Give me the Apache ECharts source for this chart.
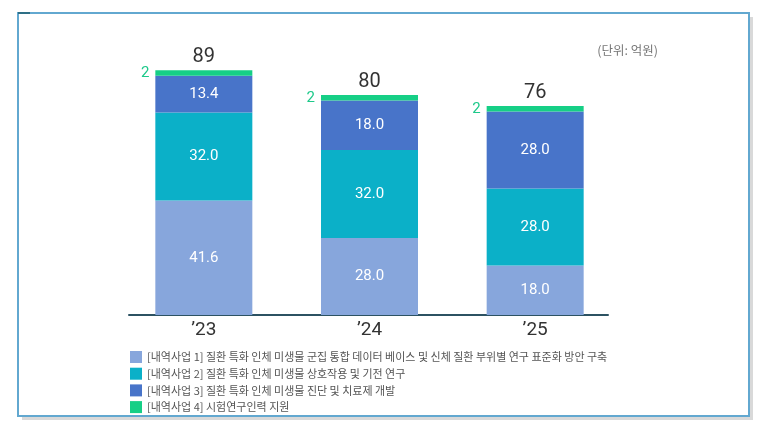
<!DOCTYPE html>
<html><head><meta charset="utf-8">
<script src="https://cdn.jsdelivr.net/npm/echarts@6/dist/echarts.min.js"></script>
<style>html,body{margin:0;padding:0;background:#fff}#c{width:769px;height:425px}</style>
</head><body><div id="c"></div>
<script>
var categories = ['\u201923', '\u201924', '\u201925'];
var seriesNames = [
  '[내역사업 1] 질환 특화 인체 미생물 군집 통합 데이터 베이스 및 신체 질환 부위별 연구 표준화 방안 구축',
  '[내역사업 2] 질환 특화 인체 미생물 상호작용 및 기전 연구',
  '[내역사업 3] 질환 특화 인체 미생물 진단 및 치료제 개발',
  '[내역사업 4] 시험연구인력 지원'
];
var sub1 = [41.6, 28.0, 18.0];
var sub2 = [32.0, 32.0, 28.0];
var sub3 = [13.4, 18.0, 28.0];
var sub4 = [2, 2, 2];
var totals = [89, 80, 76];
var unitText = '(단위: 억원)';

var colors = ['#87a6dc', '#0bb0c8', '#4874c9', '#16cf86'];
var font = '"Noto Sans CJK KR", "Noto Sans", sans-serif';
var numFont = 'Roboto, "Noto Sans CJK KR", sans-serif';
var chart = echarts.init(document.getElementById('c'));

function seg(name, data, color) {
  return {
    name: name, type: 'bar', stack: 's', data: data, barWidth: 97,
    xAxisIndex: 0, yAxisIndex: 0,
    itemStyle: { color: color },
    label: { show: true, position: 'inside', color: '#fff', fontSize: 15, fontFamily: numFont,
      formatter: function (p) { return p.value.toFixed(1); } }
  };
}
var s4 = {
  name: seriesNames[3], type: 'bar', stack: 's', data: sub4, barWidth: 97,
  itemStyle: { color: colors[3] },
  label: { show: true, position: 'left', distance: 6, color: '#1dc98a', fontSize: 15, fontFamily: numFont }
};
var totalSeries = {
  name: 'total', type: 'bar', stack: 's', data: totals.map(function () { return 0; }), barWidth: 97,
  itemStyle: { color: 'transparent' },
  label: { show: true, position: 'top', distance: 3, color: '#333', fontSize: 20, fontFamily: numFont,
    formatter: function (p) { return totals[p.dataIndex]; } }
};

chart.setOption({
  animation: false,
  textStyle: { fontFamily: font },
  graphic: [
    { type: 'rect', z: -10, shape: { x: 22, y: 17, width: 731, height: 403 }, style: { fill: '#d9d9d9' } },
    { type: 'rect', z: -9, shape: { x: 18, y: 13, width: 731, height: 403 }, style: { fill: '#fff', stroke: '#62a8d0', lineWidth: 2 } },
    { type: 'line', z: -8, shape: { x1: 18, y1: 13, x2: 30, y2: 13 }, style: { stroke: '#2e6f86', lineWidth: 2 } }
  ],
  title: { text: unitText, right: 106, top: 39, textStyle: { fontSize: 12.5, fontWeight: 'normal', color: '#777', fontFamily: font } },
  legend: {
    data: seriesNames, orient: 'vertical', left: 125, top: 346, itemWidth: 12, itemHeight: 12, itemGap: 4.7,
    icon: 'rect', textStyle: { fontSize: 11, color: '#555', fontFamily: font }
  },
  grid: [
    { left: 121, width: 497, top: 40, bottom: 110 },
    { left: 129, width: 479, top: 40, bottom: 110 }
  ],
  xAxis: [
    { type: 'category', data: categories, gridIndex: 0, axisLine: { show: false }, axisTick: { show: false },
      axisLabel: { fontSize: 19, color: '#333', margin: 6, fontFamily: numFont } },
    { type: 'category', data: categories, gridIndex: 1, axisLine: { show: true, lineStyle: { color: '#2c5262', width: 2 } },
      axisTick: { show: false }, axisLabel: { show: false } }
  ],
  yAxis: [
    { type: 'value', min: 0, max: 100, gridIndex: 0, show: false },
    { type: 'value', min: 0, max: 100, gridIndex: 1, show: false }
  ],
  series: [
    seg(seriesNames[0], sub1, colors[0]),
    seg(seriesNames[1], sub2, colors[1]),
    seg(seriesNames[2], sub3, colors[2]),
    s4,
    totalSeries
  ]
});
</script></body></html>
